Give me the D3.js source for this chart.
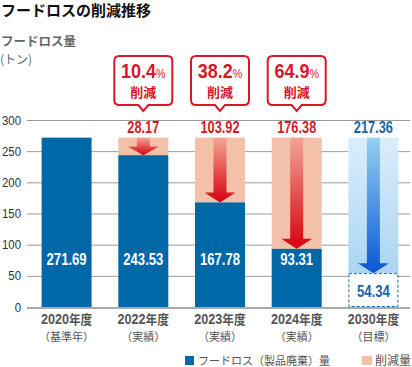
<!DOCTYPE html>
<html><head><meta charset="utf-8">
<script src="https://cdn.jsdelivr.net/npm/d3@7"></script>
<style>
html,body{margin:0;padding:0;background:#fff;}
svg{display:block;}
.cond{font-family:"Liberation Sans",Arial,sans-serif;}
.jp{font-family:"Noto Sans CJK JP","Noto Sans",sans-serif;}
</style></head>
<body>
<svg id="c" width="412" height="367"></svg>
<script>
const categories = ["2020年度","2022年度","2023年度","2024年度","2030年度"];
const subLabels = ["（基準年）","（実績）","（実績）","（実績）","（目標）"];
const lossValues = [271.69,243.53,167.78,93.31,54.34];
const reductionValues = [null,28.17,103.92,176.38,217.36];
const reductionRates = [null,"10.4","38.2","64.9",null];
const baseValue = 271.69;
const yTicks = [0,50,100,150,200,250,300];
const isTarget = [false,false,false,false,true];

const svg = d3.select("#c");
const x = d3.scaleBand().domain(categories).range([41.6, 398.4]).paddingInner(0.348).paddingOuter(0);
const y = d3.scaleLinear().domain([0,300]).range([307,120]);

const RED = "#d7182a", BLUE = "#0068a7", SALMON = "#f3c1aa", TBLUE = "#1766a8";

function ctext(parent, px, py, sx){
  return parent.append("text").attr("class","cond").attr("transform",`translate(${px},${py}) scale(${sx},1)`);
}

const defs = svg.append("defs");
function grad(id, stops){
  const g = defs.append("linearGradient").attr("id",id).attr("x1",0).attr("y1",0).attr("x2",0).attr("y2",1);
  stops.forEach(s=>g.append("stop").attr("offset",s[0]).attr("stop-color",s[1]));
}
grad("redArrow",[[0,"#f2a594"],[1,"#d8000f"]]);
grad("blueArrow",[[0,"#94d0f0"],[1,"#0a56d8"]]);
grad("lightBlue",[[0,"#dbedfb"],[1,"#abd5f2"]]);

// title
svg.append("text").attr("class","jp").attr("x",1).attr("y",16).attr("font-size",15).attr("font-weight","bold").attr("fill","#111").text("フードロスの削減推移");
svg.append("text").attr("class","jp").attr("x",1).attr("y",46).attr("font-size",12.5).attr("font-weight","bold").attr("fill","#666").text("フードロス量");
svg.append("text").attr("class","jp").attr("x",0).attr("y",64).attr("font-size",12).attr("fill","#666").text("(トン)");

// grid
const grid = svg.append("g");
yTicks.forEach(t=>{
  if(t===0) return;
  grid.append("line").attr("x1",27).attr("x2",410).attr("y1",y(t)+0.5).attr("y2",y(t)+0.5).attr("stroke","#9a9a9a").attr("stroke-width",1);
});
// y axis labels
yTicks.forEach(t=>{
  ctext(svg, 21, y(t)+4.5, 0.88).attr("text-anchor","end").attr("font-size",13).attr("fill","#333").text(t);
});

// bars
const g = svg.append("g");
categories.forEach((c,i)=>{
  const x0 = x(c), bw = x.bandwidth(), cx = x0 + bw/2;
  const yTop = y(baseValue), yLoss = y(lossValues[i]), y0 = y(0);
  if(reductionValues[i]!=null){
    g.append("rect").attr("x",x0).attr("width",bw).attr("y",yTop).attr("height",yLoss-yTop)
      .attr("fill", isTarget[i] ? "url(#lightBlue)" : SALMON);
    const sw = 13, hw = 31, hh = Math.min(10,(yLoss-yTop)*0.5);
    const p = [[cx-sw/2,yTop],[cx+sw/2,yTop],[cx+sw/2,yLoss-hh],[cx+hw/2,yLoss-hh],[cx,yLoss],[cx-hw/2,yLoss-hh],[cx-sw/2,yLoss-hh]];
    g.append("path").attr("d","M"+p.map(d=>d.join(",")).join("L")+"Z")
      .attr("fill", isTarget[i] ? "url(#blueArrow)" : "url(#redArrow)");
    ctext(g, cx, yTop-5, 0.8).attr("text-anchor","middle")
      .attr("font-size",16).attr("font-weight","bold").attr("fill", isTarget[i]?TBLUE:RED).text(reductionValues[i].toFixed(2));
  }
  if(isTarget[i]){
    g.append("rect").attr("x",x0+0.5).attr("width",bw-1).attr("y",yLoss+0.5).attr("height",y0-yLoss-1)
      .attr("fill","#fff").attr("stroke",TBLUE).attr("stroke-width",1).attr("stroke-dasharray","3,2");
    ctext(g, cx, (yLoss+y0)/2+7, 0.82).attr("text-anchor","middle")
      .attr("font-size",16).attr("font-weight","bold").attr("fill",TBLUE).text(lossValues[i].toFixed(2));
  } else {
    g.append("rect").attr("x",x0).attr("width",bw).attr("y",yLoss).attr("height",y0-yLoss).attr("fill",BLUE);
    ctext(g, cx, y0-42, 0.82).attr("text-anchor","middle")
      .attr("font-size",16).attr("font-weight","bold").attr("fill","#fff").text(lossValues[i].toFixed(2));
  }
  if(reductionRates[i]){
    const bx = cx-29, by = 56, bwid = 58, bh = 49, r = 5, tw = 5, tipY = 111;
    const d = `M${bx+r},${by}H${bx+bwid-r}Q${bx+bwid},${by} ${bx+bwid},${by+r}V${by+bh-r}Q${bx+bwid},${by+bh} ${bx+bwid-r},${by+bh}`+
      `H${cx+tw}L${cx},${tipY}L${cx-tw},${by+bh}H${bx+r}Q${bx},${by+bh} ${bx},${by+bh-r}V${by+r}Q${bx},${by} ${bx+r},${by}Z`;
    g.append("path").attr("d",d).attr("fill","#fff").attr("stroke",RED).attr("stroke-width",2);
    const t = ctext(g, cx, by+22, 0.9).attr("text-anchor","middle").attr("fill",RED).attr("font-weight","bold");
    t.append("tspan").attr("font-size",20).text(reductionRates[i]);
    t.append("tspan").attr("font-size",12).attr("font-weight","normal").text("%");
    g.append("text").attr("class","jp").attr("x",cx).attr("y",by+41).attr("text-anchor","middle").attr("font-size",13).attr("font-weight","bold").attr("fill",RED).text("削減");
  }
  // x labels
  const xl = ctext(g, cx, 324, 0.9).attr("text-anchor","middle").attr("font-size",14).attr("font-weight","bold").attr("fill","#555");
  xl.append("tspan").text(c.replace("年度",""));
  xl.append("tspan").attr("font-family","Noto Sans CJK JP").attr("font-size",13).text("年度");
  g.append("text").attr("class","jp").attr("x",cx).attr("y",341).attr("text-anchor","middle").attr("font-size",11).attr("fill","#555").text(subLabels[i]);
});
// baseline
svg.append("line").attr("x1",27).attr("x2",410).attr("y1",y(0)+1).attr("y2",y(0)+1).attr("stroke","#aaa").attr("stroke-width",2);

// legend
const lg = svg.append("g");
lg.append("rect").attr("x",185).attr("y",356).attr("width",9).attr("height",9).attr("fill",BLUE);
lg.append("text").attr("class","jp").attr("x",198).attr("y",364.5).attr("font-size",11).attr("fill","#555").text("フードロス（製品廃棄）量");
lg.append("rect").attr("x",362).attr("y",356).attr("width",10).attr("height",9).attr("fill",SALMON);
lg.append("text").attr("class","jp").attr("x",375).attr("y",364.5).attr("font-size",12).attr("fill","#555").text("削減量");
</script>
</body></html>
